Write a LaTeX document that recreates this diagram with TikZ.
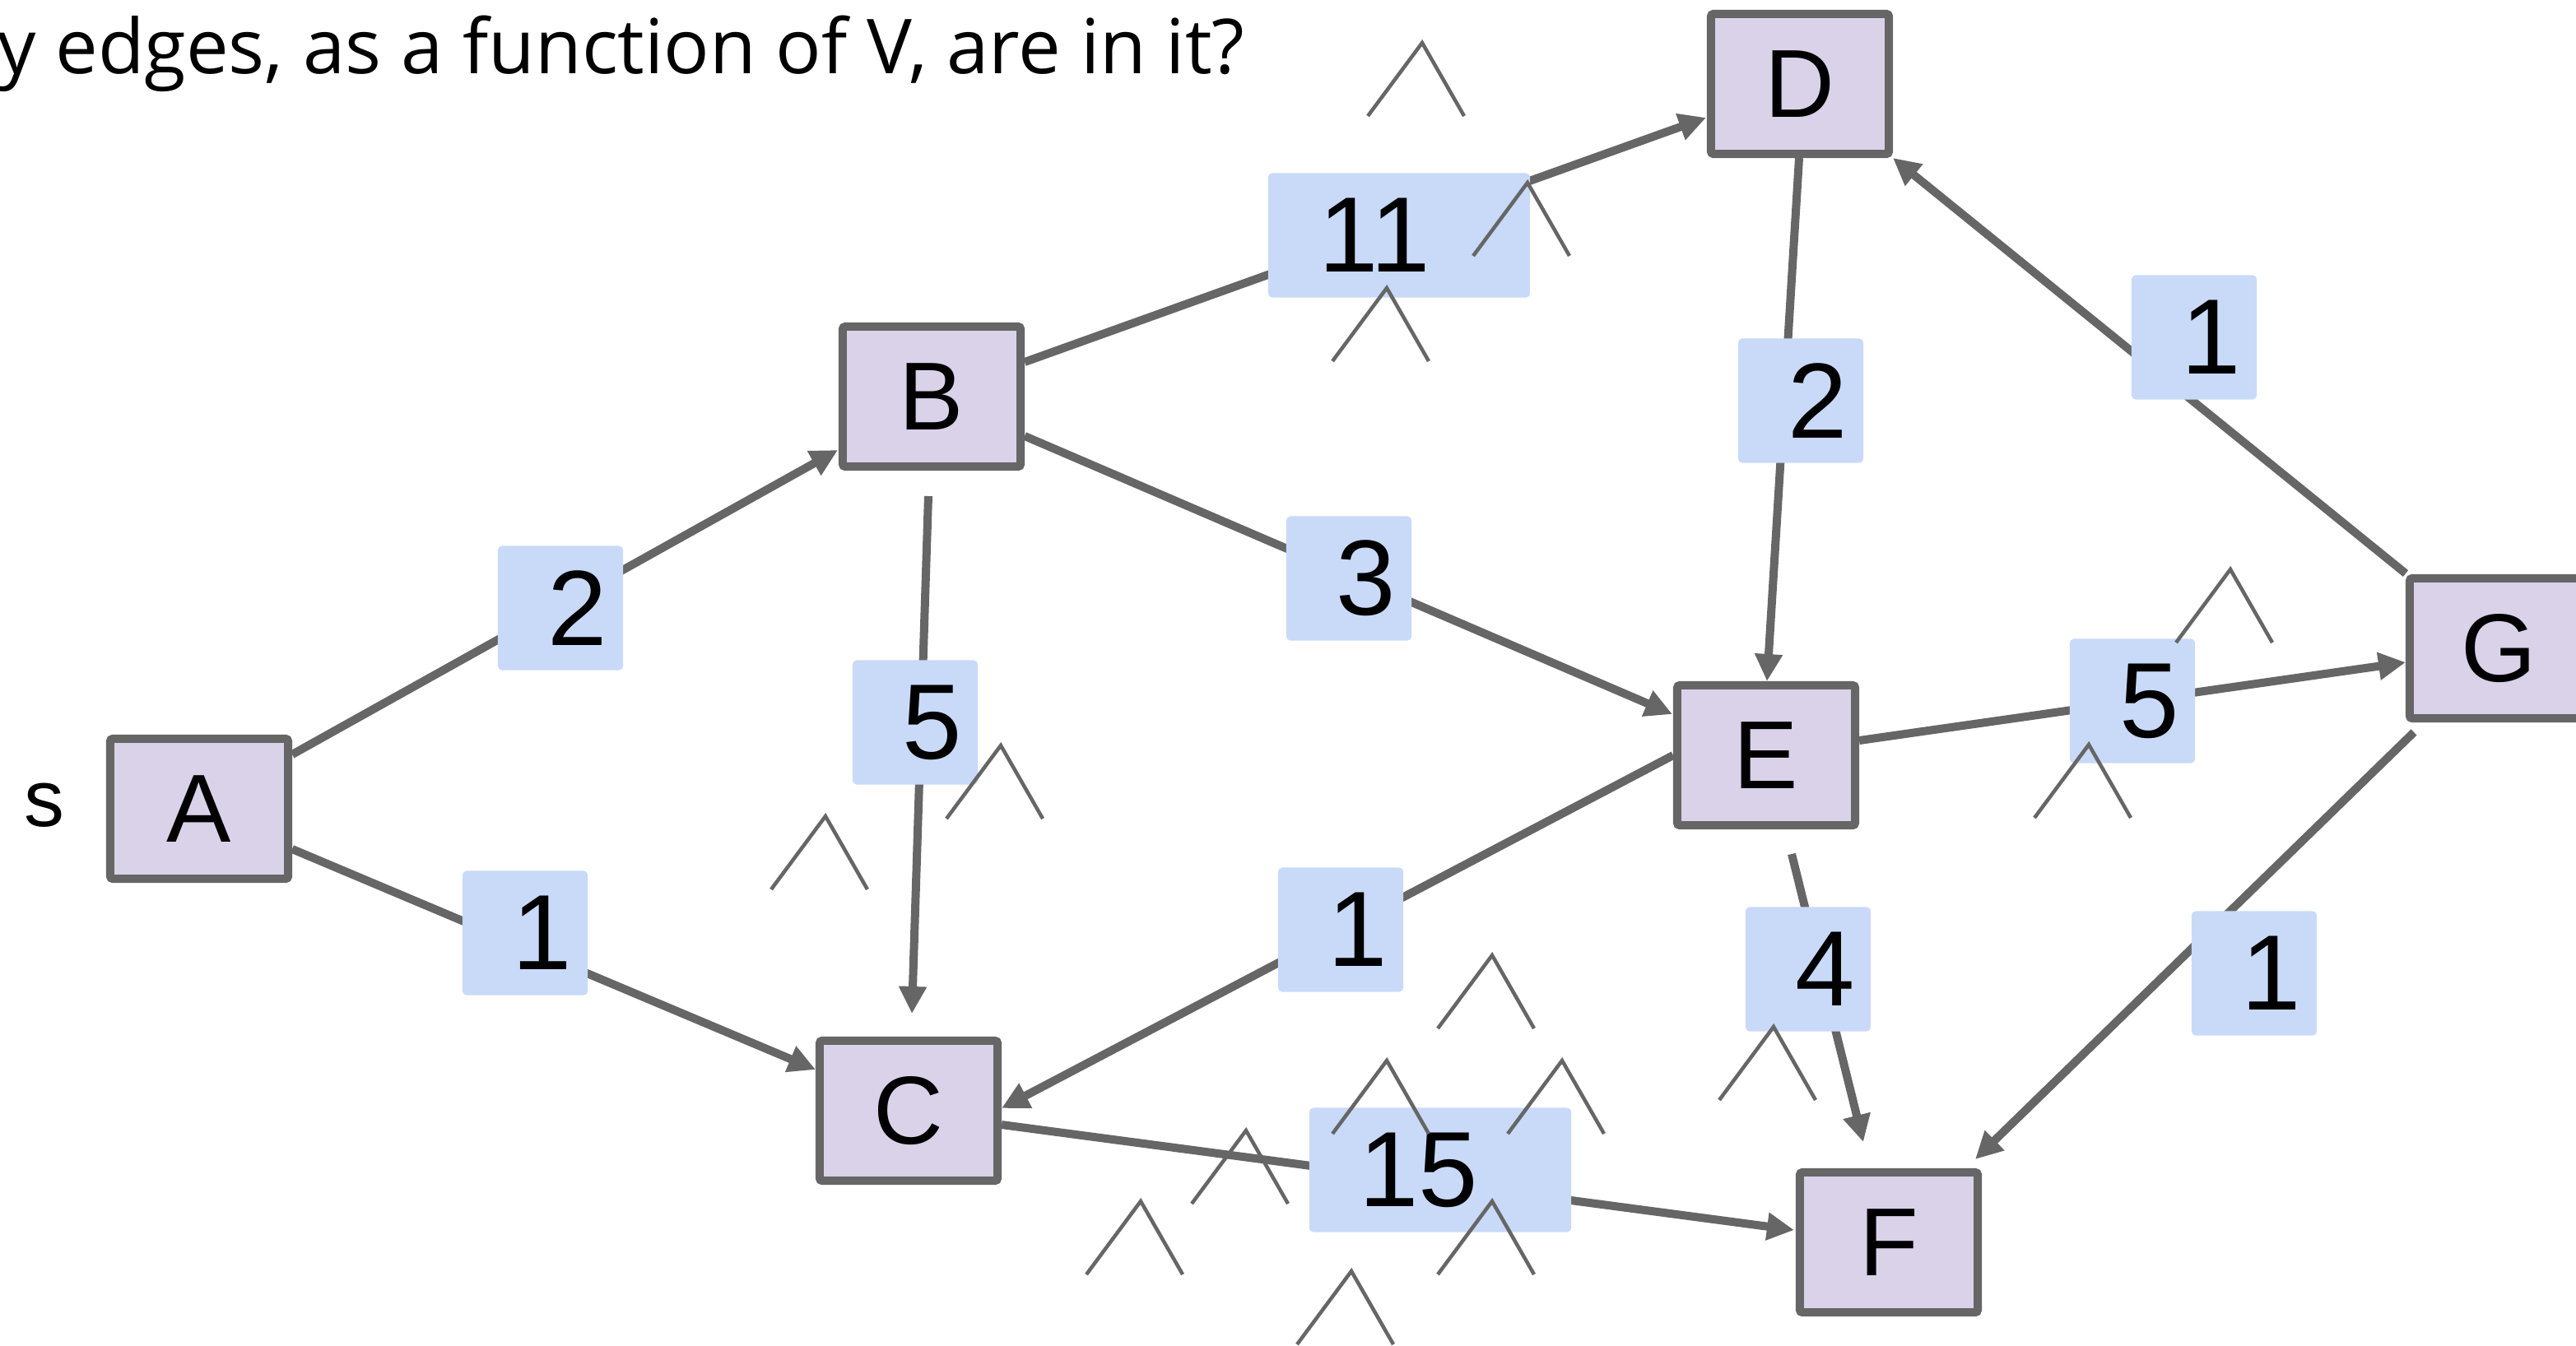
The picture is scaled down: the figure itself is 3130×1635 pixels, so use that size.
\documentclass[tikz,border=0pt]{standalone}
\usepackage{fontspec}
\setmainfont{Liberation Sans}
\newfontfamily\headfont{Open Sans}
\usetikzlibrary{calc,arrows.meta}
\definecolor{edgegray}{HTML}{666666}
\definecolor{vertexfill}{HTML}{D9D2E9}
\definecolor{weightfill}{HTML}{C9DAF8}
% weight text sits a little right of the box centre
\newcommand\wgt[1]{\hspace*{0.42cm}#1}
\begin{document}
\begin{tikzpicture}[x=0.01cm,y=-0.01cm,
  vertex/.style={draw=edgegray, fill=vertexfill, line width=0.1cm,
    rounded corners=0.03cm, minimum width=2.16cm, minimum height=1.70cm,
    inner sep=0pt, font=\fontsize{33.4}{40}\selectfont},
  weight/.style={fill=weightfill, rounded corners=0.05cm,
    minimum width=1.52cm, minimum height=1.51cm, inner sep=0pt,
    font=\fontsize{37}{44}\selectfont},
  wide/.style={minimum width=3.18cm},
  edge/.style={draw=edgegray, line width=0.1cm,
    -{Triangle[length=0.33cm,width=0.32cm]}},
  caretline/.style={draw=edgegray, line width=0.045cm},
  caret/.pic={\draw[caretline] (-66,89) -- (0,0) -- (51,89);}
]
\useasboundingbox (0,0) rectangle (3130,1635);

% heading line
\node[anchor=base east, inner sep=0pt, font=\headfont\fontsize{26.2}{32}\selectfont]
  (title) at (1513,89) {y edges, as a function of V, are in it?};

% source marker
\node[anchor=base, inner sep=0pt, font=\fontsize{27.8}{33}\selectfont]
  (src) at (54,1004) {s};

% vertices
\node[vertex] (A) at (242,983) {A};
\node[vertex] (B) at (1132,482) {B};
\node[vertex] (C) at (1104,1350) {C};
\node[vertex] (D) at (2187,102) {D};
\node[vertex] (E) at (2146,918) {E};
\node[vertex] (F) at (2295,1510) {F};
\node[vertex] (G) at (3036,788) {G};

% directed edges
\draw[edge] ($(A)+(113,-66)$) -- ($(B)+(-114,65)$);
\draw[edge] ($(A)+(113,49)$)  -- ($(C)+(-113,-50)$);
\draw[edge] ($(B)+(113,-42)$) -- ($(D)+(-114,41)$);
\draw[edge] ($(B)+(113,48)$)  -- ($(E)+(-114,-50)$);
\draw[edge] ($(B)+(-4,121)$)  -- ($(C)+(4,-118)$);
\draw[edge] ($(D)+(-1,90)$)   -- ($(E)+(1,-90)$);
\draw[edge] ($(G)+(-113,-91)$) -- ($(D)+(113,90)$);
\draw[edge] ($(E)+(113,-18)$) -- ($(G)+(-113,17)$);
\draw[edge] ($(E)+(-113,0)$)  -- ($(C)+(113,-3)$);
\draw[edge] ($(E)+(31,120)$)  -- ($(F)+(-31,-122)$);
\draw[edge] ($(G)+(-103,102)$) -- ($(F)+(105,-101)$);
\draw[edge] ($(C)+(113,17)$)  -- ($(F)+(-115,-15)$);

% edge weights
\node[weight] (wAB) at (681,739)  {\wgt{2}};
\node[weight] (wAC) at (638,1134) {\wgt{1}};
\node[weight,wide] (wBD) at (1700,286) {11\hspace*{0.6cm}};
\node[weight] (wBC) at (1112,878) {\wgt{5}};
\node[weight] (wBE) at (1639,703) {\wgt{3}};
\node[weight] (wDE) at (2188,487) {\wgt{2}};
\node[weight] (wGD) at (2666,410) {\wgt{1}};
\node[weight] (wEG) at (2591,852) {\wgt{5}};
\node[weight] (wEC) at (1629,1130) {\wgt{1}};
\node[weight] (wEF) at (2197,1178) {\wgt{4}};
\node[weight] (wGF) at (2739,1183) {\wgt{1}};
\node[weight,wide] (wCF) at (1750,1422) {15\hspace*{0.52cm}};

% caret marks
\foreach \p in {(1728,52),(1856,222),(1685,350),(1216,906),(1003,992),
                (2710,692),(2538,905),(2155,1248),(1813,1161),(1898,1289),
                (1685,1289),(1514,1374),(1386,1460),(1813,1460),(1642,1545)}
  \pic at \p {caret};
\end{tikzpicture}
\end{document}
